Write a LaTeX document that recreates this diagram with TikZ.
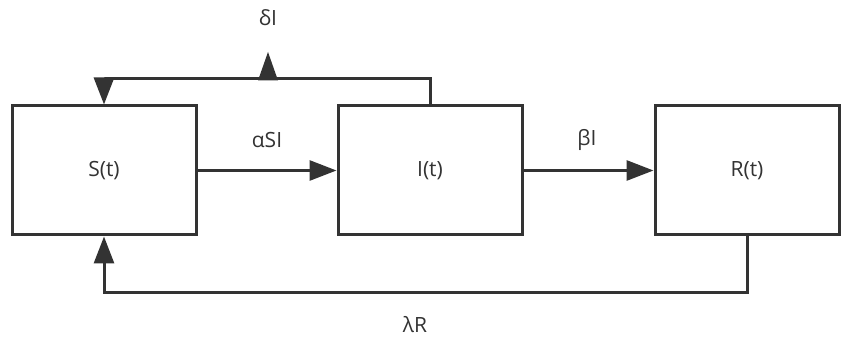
\documentclass[tikz,border=0pt]{standalone}
\usepackage{fontspec}
\setmainfont{Open Sans}
\usetikzlibrary{arrows.meta}
\definecolor{ink}{HTML}{333333}
\begin{document}
\begin{tikzpicture}[x=1pt,y=-1pt,
  box/.style={draw=ink, line width=3pt, minimum width=184pt, minimum height=129pt, inner sep=0pt, text=ink, font=\fontsize{21}{24}\selectfont},
  lbl/.style={text=ink, font=\fontsize{21}{24}\selectfont, inner sep=0pt},
  arr/.style={draw=ink, line width=3pt, -{Triangle[length=27pt,width=20pt]}},
  ln/.style={draw=ink, line width=3pt}]
\useasboundingbox (0,0) rectangle (850,344);
\fill[white] (0,0) rectangle (850,344);
\node[box] (S) at (104,170.5) {S(t)};
\node[box] (I) at (430,170.5) {I(t)};
\node[box] (R) at (747,170.5) {R(t)};
\draw[arr] (S.east) -- (I.west);
\draw[arr] (I.east) -- (R.west);
\coordinate (top) at (268,79);
\coordinate (bot) at (415,292);
\draw[arr] (I.north) -- (I.north |- top) -| (S.north);
\draw[arr] (R.south) -- (R.south |- bot) -| (S.south);
\fill[ink] ([xshift=-10pt,yshift=-1.5pt]top) -- ([xshift=10pt,yshift=-1.5pt]top) -- ([yshift=27pt]top) -- cycle;
\node[lbl] (dI) at (268,18) {δI};
\node[lbl] (aSI) at (267,140) {αSI};
\node[lbl] (bI) at (587,140) {βI};
\node[lbl] (lR) at (415,325) {λR};
\end{tikzpicture}
\end{document}
